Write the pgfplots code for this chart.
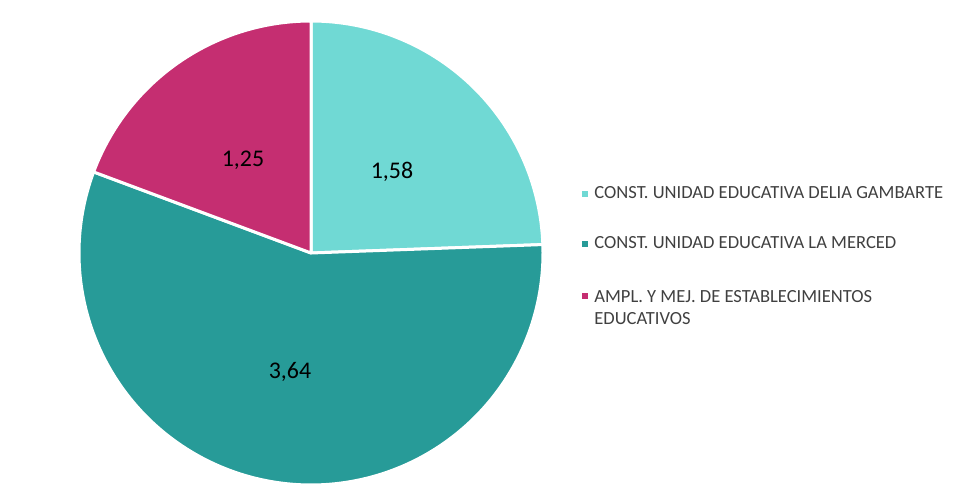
\documentclass[border=0pt]{standalone}
\usepackage{pgfplots}
\usepackage{pgfplotstable}
\usepackage{fontspec}
\setmainfont{Carlito}
\pgfplotsset{compat=1.18}
\definecolor{cLight}{HTML}{70D9D4}
\definecolor{cDark}{HTML}{279B98}
\definecolor{cMag}{HTML}{C52E71}
\definecolor{txt}{HTML}{404040}
\pgfplotstableread{
label value
A 1.58
B 3.64
C 1.25
}\piedata
\pgfplotstablegetelem{0}{value}\of\piedata \let\va\pgfplotsretval
\pgfplotstablegetelem{1}{value}\of\piedata \let\vb\pgfplotsretval
\pgfplotstablegetelem{2}{value}\of\piedata \let\vc\pgfplotsretval
\pgfmathsetmacro\tot{\va+\vb+\vc}
\pgfmathsetmacro\aA{90}
\pgfmathsetmacro\aB{90-360*\va/\tot}
\pgfmathsetmacro\aC{\aB-360*\vb/\tot}
\pgfmathsetmacro\aD{\aC-360*\vc/\tot}
\def\cx{311}
\def\cy{243}
\def\rr{232}
\pgfplotsset{
  sq/.style={legend image code/.code={\fill[#1, draw=none] (0bp,-1.5bp) rectangle (3bp,1.5bp);\path[draw=none] (0bp,0) -- (6bp,0);}},
}
\begin{document}
\begin{tikzpicture}
\begin{axis}[
  width=477bp, height=248bp, scale only axis,
  xmin=0, xmax=954, ymin=0, ymax=496,
  axis line style={draw=none}, ticks=none,
  clip=false,
  legend style={at={(axis cs:582,310)}, anchor=north west, draw=none, fill=none,
    inner sep=0pt, row sep=17.6bp, column sep=0pt, font=\fontsize{9.3}{11.5}\selectfont\color{txt},
    nodes={inner sep=0pt}},
  legend cell align=left,
]
\addplot[forget plot, fill=cLight, draw=white, line width=1.5bp, line join=round, domain=\aB:\aA, samples=120, variable=\t]
  ({\cx+\rr*cos(\t)}, {\cy+\rr*sin(\t)}) -- (\cx,\cy) -- cycle;
\addplot[forget plot, fill=cDark, draw=white, line width=1.5bp, line join=round, domain=\aC:\aB, samples=200, variable=\t]
  ({\cx+\rr*cos(\t)}, {\cy+\rr*sin(\t)}) -- (\cx,\cy) -- cycle;
\addplot[forget plot, fill=cMag, draw=white, line width=1.5bp, line join=round, domain=\aD:\aC, samples=100, variable=\t]
  ({\cx+\rr*cos(\t)}, {\cy+\rr*sin(\t)}) -- (\cx,\cy) -- cycle;
\addlegendimage{sq=cLight}
\addlegendentry{CONST. UNIDAD EDUCATIVA DELIA GAMBARTE}
\addlegendimage{sq=cDark}
\addlegendentry{CONST. UNIDAD EDUCATIVA LA MERCED}
\addlegendimage{sq=cMag}
\addlegendentry{\raisebox{0pt}[\height][0pt]{\begin{tabular}[t]{@{}l@{}}AMPL. Y MEJ. DE ESTABLECIMIENTOS\\[-0.5bp]EDUCATIVOS\end{tabular}}}
\node[font=\fontsize{12}{14}\selectfont] at (axis cs:392,324) {1,58};
\node[font=\fontsize{12}{14}\selectfont] at (axis cs:243,336) {1,25};
\node[font=\fontsize{12}{14}\selectfont] at (axis cs:290,124) {3,64};
\end{axis}
\end{tikzpicture}
\end{document}
